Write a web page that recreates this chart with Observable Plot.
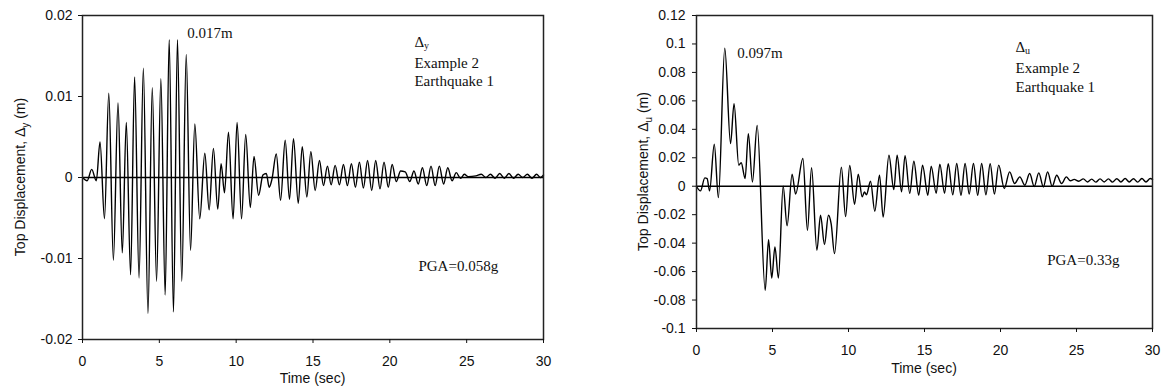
<!DOCTYPE html>
<html><head><meta charset="utf-8">
<script src="https://cdn.jsdelivr.net/npm/d3@7"></script>
<script src="https://cdn.jsdelivr.net/npm/@observablehq/plot@0.6"></script>
<style>
body{margin:0;background:#fff;}
#wrap{position:relative;width:1165px;height:390px;overflow:hidden;background:#fff;}
#left{position:absolute;left:0;top:0;}
#right{position:absolute;left:600px;top:0;}
</style></head><body><div id="wrap"><div id="left"></div><div id="right"></div></div>
<script>
// ---- data ----
const timeTicks = [0, 5, 10, 15, 20, 25, 30];
const leftYTicks = [-0.02, -0.01, 0, 0.01, 0.02];
const rightYTicks = [-0.1, -0.08, -0.06, -0.04, -0.02, 0, 0.02, 0.04, 0.06, 0.08, 0.1, 0.12];

// [time (sec), top displacement (m)] – turning points of the Δy history
const leftSeries = [
  [0,0],[0.3,-0.0004],[0.6,0.001],[0.9,-0.0004],[1.14,0.0044],[1.43,-0.0051],[1.71,0.0104],[2.01,-0.0102],
  [2.31,0.0092],[2.59,-0.0093],[2.85,0.0068],[3.13,-0.0120],[3.39,0.0124],[3.68,-0.0124],[3.96,0.0135],
  [4.26,-0.0168],[4.54,0.0111],[4.82,-0.0128],[5.10,0.0122],[5.38,-0.0145],[5.64,0.0170],[5.92,-0.0166],
  [6.18,0.0170],[6.46,-0.0128],[6.75,0.0152],[7.03,-0.0090],[7.31,0.0066],[7.63,-0.0051],[7.96,0.0030],
  [8.24,-0.0040],[8.52,0.0036],[8.80,-0.0039],[9.02,0.0017],[9.24,-0.0019],[9.50,0.0056],[9.80,-0.0051],
  [10.06,0.0068],[10.35,-0.0051],[10.62,0.0053],[10.92,-0.0037],[11.16,0.0026],[11.46,-0.0022],[11.74,0.0003],
  [11.96,0.0005],[12.15,-0.0012],[12.33,-0.0002],[12.61,0.0029],[12.89,-0.0028],[13.19,0.0046],[13.47,-0.0027],
  [13.73,0.0048],[14.04,-0.0032],[14.30,0.0038],[14.60,-0.0024],[14.86,0.0032],[15.14,-0.0016],[15.42,0.0021],
  [15.68,-0.0010],[15.94,0.0014],[16.18,-0.0009],[16.44,0.0015],[16.72,-0.0009],[16.98,0.0016],[17.24,-0.0010],
  [17.50,0.0017],[17.76,-0.0012],[18.02,0.0019],[18.28,-0.0013],[18.55,0.0021],[18.82,-0.0016],[19.08,0.0021],
  [19.36,-0.0014],[19.62,0.0019],[19.90,-0.0012],[20.15,0.0016],[20.42,-0.0005],[20.70,0.0008],[21.00,0.0007],
  [21.30,-0.0005],[21.57,0.0008],[21.85,-0.0008],[22.12,0.0012],[22.40,-0.0010],[22.68,0.0014],[22.95,-0.0010],
  [23.22,0.0014],[23.50,-0.0008],[23.77,0.0012],[24.05,-0.0004],[24.32,0.0006],[24.60,-0.0001],[24.85,0.0004],
  [25.10,0.0001],[25.60,0.0002],[25.95,0.0004],[26.25,0.0000],[26.55,0.0004],[26.85,-0.0001],[27.15,0.0005],
  [27.45,-0.0001],[27.75,0.0005],[28.05,-0.0001],[28.35,0.0004],[28.65,0.0000],[28.95,0.0004],[29.25,-0.0001],
  [29.55,0.0004],[29.80,0.0000],[30.00,0.0003]
];

// [time (sec), top displacement (m)] – turning points of the Δu history
const rightSeries = [
  [0,0],[0.26,-0.0033],[0.55,0.0059],[0.70,0.0054],[0.86,-0.0033],[1.17,0.0296],[1.44,-0.0080],[1.86,0.0970],
  [2.24,0.0300],[2.47,0.0580],[2.78,0.0148],[2.94,0.0165],[3.20,0.0054],[3.41,0.0370],[3.68,0.0030],[3.99,0.0427],
  [4.52,-0.0732],[4.74,-0.0376],[4.95,-0.0645],[5.16,-0.0427],[5.39,-0.0645],[5.70,0.0000],[5.96,-0.0278],
  [6.29,0.0085],[6.52,-0.0055],[7.00,0.0195],[7.30,-0.0310],[7.57,0.0130],[7.92,-0.0450],[8.16,-0.0204],
  [8.42,-0.0410],[8.68,-0.0204],[8.86,-0.0265],[9.08,-0.0474],[9.53,0.0133],[9.81,-0.0214],[10.08,0.0146],
  [10.40,-0.0127],[10.64,0.0085],[10.90,-0.0075],[11.05,-0.0040],[11.18,-0.0060],[11.45,0.0035],[11.73,-0.0176],
  [12.04,0.0077],[12.28,-0.0216],[12.66,0.0218],[12.98,-0.0023],[13.20,0.0218],[13.49,-0.0040],[13.72,0.0215],
  [14.03,-0.0050],[14.30,0.0176],[14.62,-0.0063],[14.87,0.0148],[15.22,-0.0063],[15.44,0.0141],[15.77,-0.0050],
  [16.01,0.0155],[16.32,-0.0050],[16.56,0.0158],[16.86,-0.0060],[17.12,0.0160],[17.40,-0.0063],[17.67,0.0160],
  [17.94,-0.0055],[18.22,0.0160],[18.50,-0.0063],[18.76,0.0160],[19.04,-0.0060],[19.32,0.0158],[19.60,-0.0055],
  [19.88,0.0148],[20.25,-0.0016],[20.60,0.0101],[20.93,0.0019],[21.27,0.0066],[21.60,0.0007],[21.92,0.0089],
  [22.22,-0.0002],[22.52,0.0094],[22.82,-0.0005],[23.10,0.0101],[23.40,0.0000],[23.70,0.0077],[24.02,0.0019],
  [24.33,0.0066],[24.60,0.0038],[24.85,0.0048],[25.15,0.0035],[25.45,0.0052],[25.72,0.0030],[26.00,0.0050],
  [26.27,0.0029],[26.55,0.0052],[26.82,0.0030],[27.10,0.0052],[27.37,0.0029],[27.65,0.0053],[27.92,0.0030],
  [28.20,0.0054],[28.47,0.0030],[28.75,0.0053],[29.02,0.0029],[29.30,0.0054],[29.57,0.0030],[29.85,0.0054],
  [30.00,0.0048]
];

const leftTexts = ["0.017m", "Example 2", "Earthquake 1", "PGA=0.058g"];
const rightTexts = ["0.097m", "Example 2", "Earthquake 1", "PGA=0.33g"];

// ---- drawing ----
const SANS = "'Liberation Sans', Arial, Helvetica, sans-serif";
const SERIF = "'Liberation Serif', 'Times New Roman', serif";

function makePanel(cfg) {
  const data = cfg.series.map(([t, v]) => ({t, v}));
  const notes = [
    {t: cfg.peakAt[0], v: cfg.peakAt[1], s: cfg.texts[0]},
    {t: cfg.boxAt[0], v: cfg.boxAt[1], s: cfg.texts[1]},
    {t: cfg.boxAt[0], v: cfg.boxAt[2], s: cfg.texts[2]},
    {t: cfg.pgaAt[0], v: cfg.pgaAt[1], s: cfg.texts[3]}
  ];
  const delta = [{t: cfg.boxAt[0], v: cfg.deltaAt}];
  const plot = Plot.plot({
    width: cfg.width, height: 390,
    marginLeft: cfg.ml, marginRight: cfg.mr, marginTop: 15, marginBottom: cfg.mb,
    style: {fontFamily: SANS, fontSize: "14px", background: "white", color: "#111", overflow: "visible"},
    x: {domain: [0, 30]},
    y: {domain: cfg.yDomain},
    marks: [
      Plot.ruleY([0], {stroke: "#000", strokeWidth: 1.3}),
      Plot.line(data, {x: "t", y: "v", curve: "monotone-x", stroke: "#000", strokeWidth: 1.4}),
      Plot.frame({stroke: "#222", strokeWidth: 1.5}),
      Plot.axisX(timeTicks, {tickSize: 4, tickPadding: 13, tickFormat: d => String(d), label: null, fontSize: 14}),
      Plot.axisY(cfg.yTicks, {tickSize: 4, tickPadding: cfg.yPad, tickFormat: d => String(d), label: null, fontSize: 14}),
      Plot.text(notes, {x: "t", y: "v", text: "s", textAnchor: "start", fontFamily: SERIF, fontSize: 15, fill: "#111"}),
      Plot.text(delta, {x: "t", y: "v", text: () => "Δ", textAnchor: "start", fontFamily: SERIF, fontSize: 15, fill: "#111"}),
      Plot.text(delta, {x: "t", y: "v", text: () => cfg.sub, textAnchor: "start", dx: 9.5, dy: 4, fontFamily: SERIF, fontSize: 10, fill: "#111"})
    ]
  });
  const svg = d3.select(plot);
  const yt = svg.append("text")
    .attr("transform", `translate(${cfg.yTitle[0]},${cfg.yTitle[1]}) rotate(-90)`)
    .attr("text-anchor", "middle").attr("dy", "0.35em")
    .attr("font-family", SANS).attr("font-size", 14).attr("fill", "#111");
  yt.append("tspan").text("Top Displacement, Δ");
  yt.append("tspan").attr("dy", 4).attr("font-size", 10).text(cfg.sub);
  yt.append("tspan").attr("dy", -4).text(" (m)");
  svg.append("text")
    .attr("x", cfg.xTitle[0]).attr("y", cfg.xTitle[1])
    .attr("text-anchor", "middle").attr("dy", "0.35em")
    .attr("font-family", SANS).attr("font-size", 14).attr("fill", "#111")
    .text("Time (sec)");
  return plot;
}

document.getElementById("left").append(makePanel({
  series: leftSeries, texts: leftTexts, sub: "y",
  width: 560, ml: 82, mr: 17, mb: 51, yPad: 6,
  yDomain: [-0.02, 0.02], yTicks: leftYTicks,
  peakAt: [6.81, 0.0178], boxAt: [21.6, 0.0141, 0.01185], deltaAt: 0.0167, pgaAt: [21.86, -0.01095],
  yTitle: [20, 177], xTitle: [312.5, 378]
}));

document.getElementById("right").append(makePanel({
  series: rightSeries, texts: rightTexts, sub: "u",
  width: 565, ml: 96, mr: 13, mb: 62, yPad: 7,
  yDomain: [-0.1, 0.12], yTicks: rightYTicks,
  peakAt: [2.68, 0.0938], boxAt: [20.99, 0.0829, 0.0696], deltaAt: 0.0977, pgaAt: [23.07, -0.0522],
  yTitle: [43, 171.5], xTitle: [324, 368]
}));
</script>
</body></html>
